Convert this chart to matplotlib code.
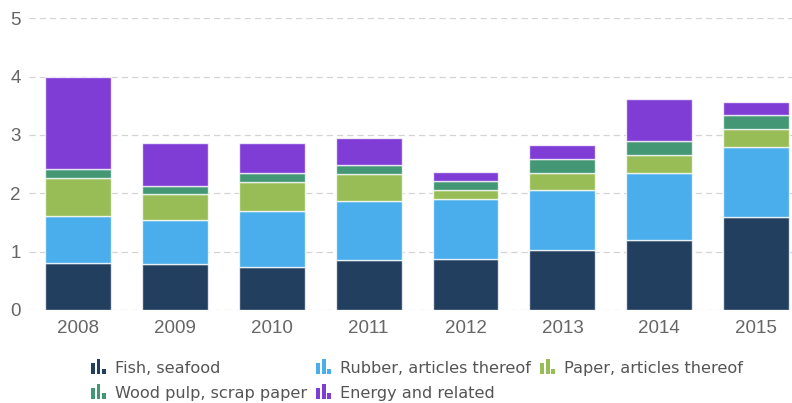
import matplotlib
matplotlib.use("Agg")
import matplotlib.pyplot as plt
from matplotlib.patches import Rectangle
from matplotlib.legend_handler import HandlerBase
import numpy as np

years = ["2008", "2009", "2010", "2011", "2012", "2013", "2014", "2015"]
series_names = ["Fish, seafood", "Rubber, articles thereof", "Paper, articles thereof",
                "Wood pulp, scrap paper", "Energy and related"]
fish = [0.80, 0.78, 0.73, 0.85, 0.87, 1.02, 1.20, 1.59]
rubber = [0.81, 0.76, 0.97, 1.02, 1.04, 1.03, 1.15, 1.20]
paper = [0.65, 0.44, 0.49, 0.46, 0.15, 0.30, 0.30, 0.31]
wood = [0.16, 0.15, 0.16, 0.16, 0.15, 0.23, 0.24, 0.25]
energy = [1.57, 0.73, 0.51, 0.46, 0.16, 0.25, 0.73, 0.22]
colors = ["#233f5f", "#49aeeb", "#99bd56", "#439774", "#7f3dd5"]
yticks = [0, 1, 2, 3, 4, 5]

W, H = 792, 403
fig = plt.figure(figsize=(W / 100, H / 100), dpi=100)
ax = fig.add_axes([29 / W, (H - 310) / H, (W - 29) / W, (310 - 18.3) / H])

x = np.arange(len(years))
bottom = np.zeros(len(years))
handles = []
for name, vals, c in zip(series_names, [fish, rubber, paper, wood, energy], colors):
    b = ax.bar(x, vals, width=0.68, bottom=bottom, color=c,
               edgecolor=(1, 1, 1, 0.75), linewidth=1.0, label=name, zorder=3)
    handles.append(b)
    bottom += np.array(vals)

ax.set_ylim(0, 5)
ax.set_xlim(-0.506, 7.37)
ax.set_yticks(yticks)
ax.set_xticks(x)
ax.set_xticklabels(years)
for s in ax.spines.values():
    s.set_visible(False)
ax.tick_params(axis="both", length=0, labelsize=13.5, labelcolor="#666666")
ax.tick_params(axis="y", pad=6)
ax.tick_params(axis="x", pad=7)
for lab in ax.get_xticklabels() + ax.get_yticklabels():
    lab.set_family("Liberation Sans")
ax.yaxis.grid(True, color="#d4d4d4", linewidth=0.9, linestyle=(0, (5, 3.2)), zorder=0)
ax.set_axisbelow(True)


class HandlerBars(HandlerBase):
    def create_artists(self, legend, orig_handle, xdescent, ydescent,
                       width, height, fontsize, trans):
        c = orig_handle.patches[0].get_facecolor()
        bw = width * 0.26
        gap = width * 0.11
        heights = [0.72, 1.0, 0.38]
        arts = []
        h = fontsize * 0.95
        y0 = -ydescent - fontsize * 0.05
        for i, hf in enumerate(heights):
            r = Rectangle((-xdescent + i * (bw + gap), y0), bw, h * hf,
                          facecolor=c, edgecolor="none", transform=trans)
            arts.append(r)
        return arts


order = [0, 3, 1, 4, 2]
leg = fig.legend([handles[i] for i in order], [series_names[i] for i in order],
                 ncol=3, loc="upper left", bbox_to_anchor=(91 / W, 1 - 361 / H),
                 frameon=False, fontsize=11.6, handlelength=0.93, handleheight=0.8,
                 handletextpad=0.56, columnspacing=0.56, labelspacing=0.6,
                 borderpad=0, borderaxespad=0,
                 handler_map={type(handles[0]): HandlerBars()})
for t in leg.get_texts():
    t.set_color("#555555")

fig.savefig("out.png", dpi=100)
